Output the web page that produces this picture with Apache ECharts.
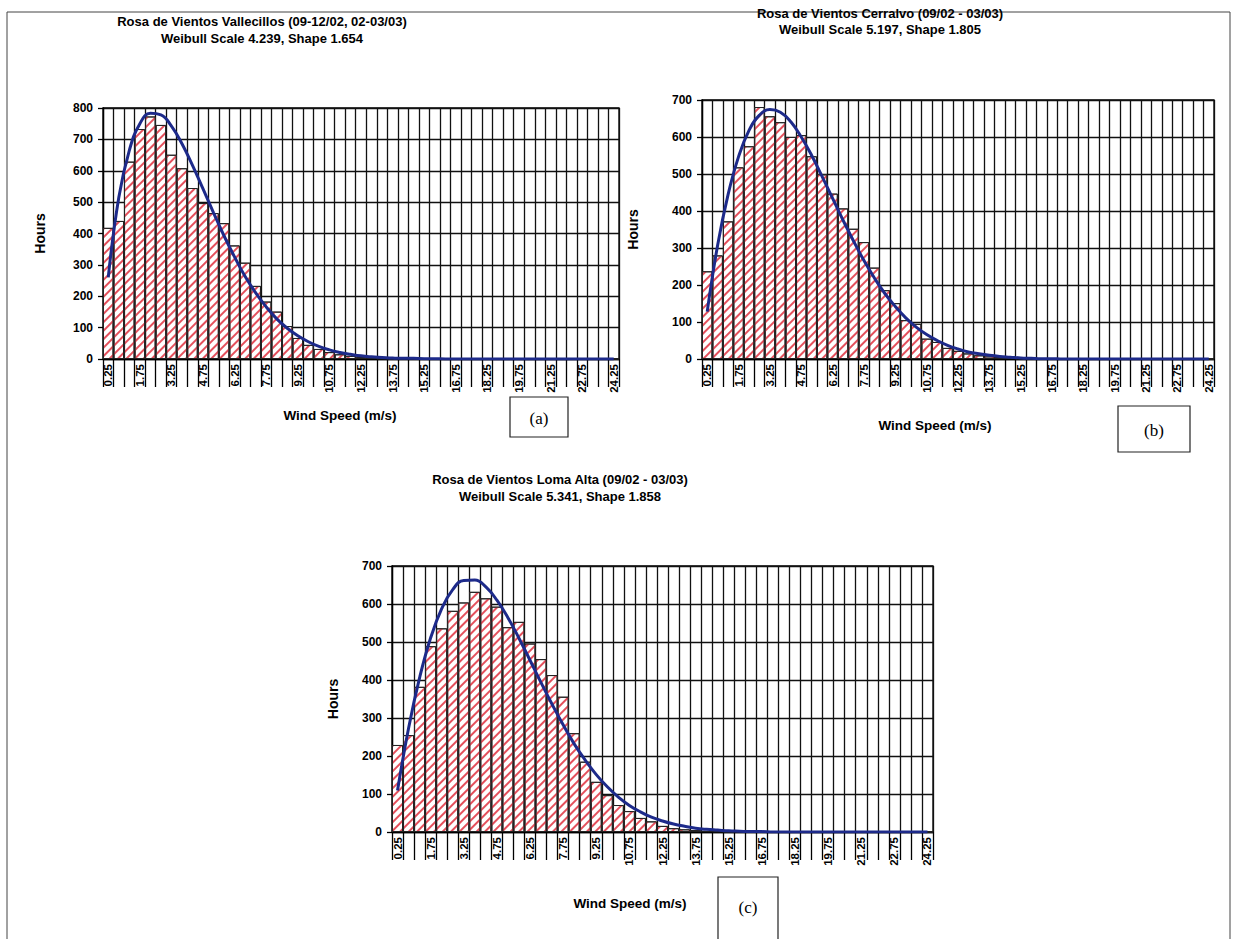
<!DOCTYPE html>
<html>
<head>
<meta charset="utf-8">
<title>Weibull wind speed histograms</title>
<script src="https://cdn.jsdelivr.net/npm/echarts@6/dist/echarts.min.js"></script>
<style>
  html, body { margin: 0; padding: 0; background: #fff; }
  #chart { width: 1233px; height: 939px; }
</style>
</head>
<body>
<div id="chart"></div>
<script>
// wind speed bins (m/s)
const speedBins = ['0.25', '0.75', '1.25', '1.75', '2.25', '2.75', '3.25', '3.75', '4.25', '4.75',
  '5.25', '5.75', '6.25', '6.75', '7.25', '7.75', '8.25', '8.75', '9.25', '9.75',
  '10.25', '10.75', '11.25', '11.75', '12.25', '12.75', '13.25', '13.75', '14.25', '14.75',
  '15.25', '15.75', '16.25', '16.75', '17.25', '17.75', '18.25', '18.75', '19.25', '19.75',
  '20.25', '20.75', '21.25', '21.75', '22.25', '22.75', '23.25', '23.75', '24.25'];

// (a) Vallecillos
const hoursA = [418, 440, 629, 733, 773, 746, 651, 608, 545, 497, 465, 433, 362, 307, 233, 183, 151, 105, 67, 45,
  32, 22, 15, 10, 6, 4, 2, 1, 1, 0, 0, 0, 0, 0, 0, 0, 0, 0, 0, 0, 0, 0, 0, 0, 0, 0, 0, 0, 0];
const weibullA = [260, 515, 665, 750, 783, 778, 742, 686, 617, 542, 466, 392, 325, 263, 211, 166, 128, 98, 74, 55,
  40, 29, 21, 15, 10, 7, 5, 3, 2, 2, 1, 1, 0, 0, 0, 0, 0, 0, 0, 0, 0, 0, 0, 0, 0, 0, 0, 0, 0];

// (b) Cerralvo
const hoursB = [237, 280, 372, 518, 575, 681, 656, 640, 600, 605, 548, 499, 447, 407, 352, 316, 247, 186, 151, 105,
  95, 55, 46, 30, 22, 15, 10, 7, 5, 3, 2, 1, 1, 0, 0, 0, 0, 0, 0, 0, 0, 0, 0, 0, 0, 0, 0, 0, 0];
const weibullB = [128, 308, 445, 547, 618, 659, 674, 667, 641, 600, 550, 493, 434, 375, 319, 266, 219, 177, 142, 111,
  86, 66, 50, 37, 27, 19, 14, 10, 7, 5, 3, 2, 1, 1, 0, 0, 0, 0, 0, 0, 0, 0, 0, 0, 0, 0, 0, 0, 0];

// (c) Loma Alta
const hoursC = [229, 255, 382, 489, 536, 582, 604, 632, 615, 593, 539, 553, 496, 455, 413, 356, 260, 185, 132, 97,
  71, 55, 37, 28, 16, 10, 7, 5, 3, 2, 1, 1, 0, 0, 0, 0, 0, 0, 0, 0, 0, 0, 0, 0, 0, 0, 0, 0, 0];
const weibullC = [109, 273, 406, 511, 588, 638, 662, 663, 645, 610, 564, 510, 452, 393, 336, 282, 232, 189, 151, 119,
  92, 70, 53, 39, 29, 21, 15, 10, 7, 5, 3, 2, 1, 1, 0, 0, 0, 0, 0, 0, 0, 0, 0, 0, 0, 0, 0, 0, 0];

const yMax = [800, 700, 700];

const FONT = '"Liberation Sans", Arial, sans-serif';
const SERIF = '"Liberation Serif", "Times New Roman", serif';

const chart = echarts.init(document.getElementById('chart'), null, { renderer: 'svg' });

// panel geometry in pixels
const grids = [
  { left: 103, top: 108, width: 516, height: 251 },
  { left: 702, top: 100, width: 512, height: 259 },
  { left: 392, top: 566, width: 541, height: 266 }
];
const hoursGap = [56, 62, 52];

function xAxisFor(i) {
  return {
    type: 'category',
    gridIndex: i,
    data: speedBins,
    boundaryGap: true,
    axisLine: { show: true, lineStyle: { color: '#000', width: 1.3 } },
    axisTick: { show: true, interval: 0, length: 28, lineStyle: { color: '#000', width: 1.3 } },
    axisLabel: {
      interval: 2, rotate: 90, margin: 5,
      color: '#000', fontFamily: FONT, fontWeight: 'bold', fontSize: 11.5
    },
    splitLine: { show: true, interval: 0, lineStyle: { color: '#111', width: 1.3 } }
  };
}

function yAxisFor(i) {
  return {
    type: 'value',
    gridIndex: i,
    min: 0, max: yMax[i], interval: 100,
    name: 'Hours', nameLocation: 'middle', nameRotate: 90, nameGap: hoursGap[i],
    nameTextStyle: { color: '#000', fontFamily: FONT, fontWeight: 'bold', fontSize: 14 },
    axisLine: { show: true, lineStyle: { color: '#000', width: 1.3 } },
    axisTick: { show: true, length: 5, lineStyle: { color: '#000', width: 1.3 } },
    axisLabel: { color: '#000', fontFamily: FONT, fontWeight: 'bold', fontSize: 12, margin: 10 },
    splitLine: { show: true, lineStyle: { color: '#111', width: 1.3 } }
  };
}

function barSeries(i, data) {
  return {
    type: 'bar', xAxisIndex: i, yAxisIndex: i, data: data,
    barCategoryGap: '0%',
    itemStyle: {
      color: '#fff', borderColor: '#222', borderWidth: 1,
      decal: {
        symbol: 'rect', symbolSize: 1,
        color: '#e4505c',
        dashArrayX: [1, 0], dashArrayY: [1.3, 3.2],
        rotation: -Math.PI / 4
      }
    },
    emphasis: { disabled: true }
  };
}

function curveSeries(i, data) {
  return {
    type: 'line', xAxisIndex: i, yAxisIndex: i, data: data,
    smooth: 0.45, symbol: 'none', z: 5,
    lineStyle: { color: '#1d2a8a', width: 3 }
  };
}

function label(x, y, text, size, weight, family) {
  return {
    type: 'text', x: x, y: y, z: 10,
    style: {
      text: text, fill: '#000', align: 'center', verticalAlign: 'middle',
      font: (weight || 'bold') + ' ' + size + 'px ' + (family || FONT)
    }
  };
}

function box(x, y, w, h) {
  return {
    type: 'rect', z: 10,
    shape: { x: x, y: y, width: w, height: h },
    style: { fill: '#fff', stroke: '#222', lineWidth: 1.2 }
  };
}

chart.setOption({
  backgroundColor: '#fff',
  animation: false,
  grid: grids.map(g => Object.assign({ show: true, borderColor: '#000', borderWidth: 1.3, backgroundColor: '#fff' }, g)),
  xAxis: [0, 1, 2].map(xAxisFor),
  yAxis: [0, 1, 2].map(yAxisFor),
  series: [
    barSeries(0, hoursA), curveSeries(0, weibullA),
    barSeries(1, hoursB), curveSeries(1, weibullB),
    barSeries(2, hoursC), curveSeries(2, weibullC)
  ],
  graphic: [
    // outer frame
    {
      type: 'rect', z: 0, silent: true,
      shape: { x: 7, y: 12, width: 1223, height: 1000 },
      style: { fill: 'none', stroke: '#444', lineWidth: 1 }
    },
    // titles
    label(262, 21, 'Rosa de Vientos Vallecillos (09-12/02, 02-03/03)', 13),
    label(262, 38, 'Weibull Scale 4.239, Shape 1.654', 13),
    label(880, 13, 'Rosa de Vientos Cerralvo (09/02 - 03/03)', 13),
    label(880, 29, 'Weibull Scale 5.197, Shape 1.805', 13),
    label(560, 479, 'Rosa de Vientos Loma Alta (09/02 - 03/03)', 13),
    label(560, 496, 'Weibull Scale 5.341, Shape 1.858', 13),
    // x axis names
    label(340, 415, 'Wind Speed (m/s)', 13.5),
    label(935, 425, 'Wind Speed (m/s)', 13.5),
    label(630, 903, 'Wind Speed (m/s)', 13.5),
    // panel tags
    box(510, 397, 58, 40), label(539, 418, '(a)', 17, 'normal', SERIF),
    box(1118, 406, 72, 46), label(1154, 430, '(b)', 17, 'normal', SERIF),
    box(718, 877, 60, 80), label(748, 907, '(c)', 17, 'normal', SERIF)
  ]
});
</script>
</body>
</html>
